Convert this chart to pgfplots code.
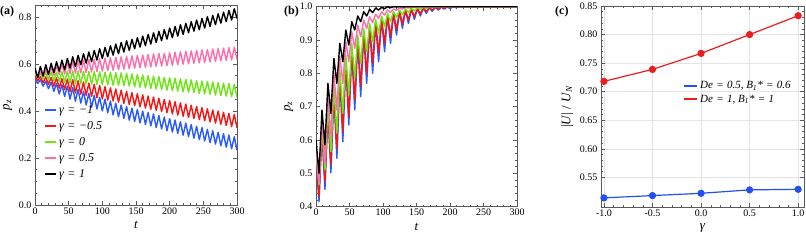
\documentclass[border=0pt]{standalone}
\usepackage{fontspec}
\setmainfont{Liberation Serif}
\usepackage{pgfplots}
\usepackage{pgfplotstable}
\pgfplotsset{compat=1.18}
\definecolor{cb}{RGB}{40,90,255}
\definecolor{cr}{RGB}{250,20,20}
\definecolor{cg}{RGB}{110,230,20}
\definecolor{cp}{RGB}{255,110,170}
\definecolor{frm}{RGB}{90,90,90}
\definecolor{cbc}{RGB}{35,80,240}
\definecolor{crc}{RGB}{235,30,30}

\pgfplotstableread{
t b r g p k
0 0.538 0.548 0.558 0.558 0.582
4 0.516 0.528 0.540 0.543 0.541
8 0.533 0.546 0.560 0.566 0.589
12 0.505 0.520 0.536 0.546 0.548
16 0.527 0.544 0.562 0.575 0.596
20 0.494 0.513 0.533 0.549 0.555
24 0.522 0.542 0.564 0.583 0.602
28 0.483 0.505 0.529 0.552 0.562
32 0.516 0.540 0.565 0.592 0.609
36 0.472 0.497 0.525 0.555 0.569
40 0.511 0.537 0.567 0.600 0.616
44 0.461 0.490 0.521 0.557 0.575
48 0.505 0.535 0.569 0.608 0.623
52 0.450 0.482 0.518 0.558 0.582
56 0.499 0.533 0.570 0.613 0.630
60 0.441 0.476 0.516 0.560 0.589
64 0.491 0.528 0.570 0.614 0.636
68 0.433 0.471 0.515 0.561 0.596
72 0.483 0.523 0.569 0.616 0.643
76 0.425 0.466 0.514 0.563 0.603
80 0.475 0.518 0.568 0.618 0.650
84 0.416 0.461 0.513 0.565 0.609
88 0.466 0.513 0.567 0.620 0.657
92 0.408 0.456 0.512 0.567 0.616
96 0.458 0.508 0.566 0.622 0.664
100 0.400 0.451 0.511 0.569 0.623
104 0.450 0.503 0.565 0.624 0.670
108 0.392 0.446 0.510 0.571 0.630
112 0.442 0.498 0.564 0.626 0.677
116 0.383 0.442 0.509 0.573 0.637
120 0.433 0.493 0.563 0.628 0.684
124 0.375 0.437 0.508 0.575 0.643
128 0.425 0.488 0.562 0.630 0.691
132 0.368 0.432 0.507 0.577 0.650
136 0.419 0.483 0.560 0.632 0.698
140 0.361 0.427 0.505 0.579 0.657
144 0.412 0.478 0.557 0.634 0.704
148 0.355 0.422 0.502 0.581 0.664
152 0.406 0.473 0.555 0.636 0.711
156 0.349 0.417 0.500 0.583 0.671
160 0.399 0.468 0.553 0.638 0.718
164 0.342 0.412 0.498 0.585 0.677
168 0.393 0.463 0.550 0.640 0.725
172 0.336 0.407 0.495 0.587 0.684
176 0.387 0.459 0.548 0.642 0.732
180 0.329 0.402 0.493 0.589 0.691
184 0.380 0.454 0.546 0.644 0.738
188 0.323 0.397 0.491 0.591 0.698
192 0.374 0.449 0.543 0.645 0.745
196 0.316 0.392 0.488 0.592 0.705
200 0.367 0.444 0.541 0.647 0.752
204 0.310 0.387 0.486 0.594 0.711
208 0.361 0.439 0.539 0.649 0.759
212 0.304 0.382 0.484 0.596 0.718
216 0.354 0.434 0.536 0.651 0.766
220 0.297 0.377 0.481 0.598 0.725
224 0.348 0.429 0.534 0.653 0.772
228 0.291 0.372 0.479 0.600 0.732
232 0.342 0.424 0.532 0.655 0.779
236 0.284 0.368 0.477 0.602 0.739
240 0.335 0.419 0.529 0.657 0.786
244 0.278 0.363 0.474 0.604 0.745
248 0.329 0.414 0.527 0.659 0.793
252 0.272 0.358 0.472 0.606 0.752
256 0.322 0.409 0.525 0.661 0.800
260 0.265 0.353 0.470 0.608 0.759
264 0.316 0.404 0.523 0.663 0.806
268 0.259 0.348 0.467 0.610 0.766
272 0.309 0.399 0.520 0.665 0.813
276 0.252 0.343 0.465 0.612 0.773
280 0.303 0.394 0.518 0.667 0.820
284 0.246 0.338 0.463 0.614 0.779
288 0.297 0.389 0.516 0.669 0.827
292 0.239 0.333 0.460 0.616 0.786
296 0.290 0.385 0.513 0.671 0.834
300 0.233 0.328 0.458 0.618 0.793
}\dataA

\pgfplotstableread{
t b r g p k
0 0.550 0.555 0.560 0.570 0.600
4.45 0.415 0.430 0.465 0.470 0.500
8.9 0.620 0.630 0.640 0.660 0.690
13.35 0.452 0.475 0.510 0.530 0.585
17.8 0.680 0.690 0.700 0.740 0.770
22.25 0.502 0.525 0.565 0.610 0.680
26.7 0.735 0.745 0.760 0.800 0.845
31.15 0.545 0.575 0.620 0.690 0.770
35.6 0.785 0.795 0.810 0.850 0.890
40.05 0.595 0.625 0.680 0.770 0.835
44.5 0.830 0.840 0.855 0.895 0.930
48.95 0.645 0.670 0.735 0.835 0.885
53.4 0.865 0.875 0.890 0.925 0.955
57.85 0.690 0.720 0.785 0.875 0.930
62.3 0.895 0.905 0.915 0.945 0.972
66.75 0.730 0.760 0.830 0.910 0.955
71.2 0.918 0.925 0.935 0.960 0.985
75.65 0.770 0.800 0.865 0.935 0.972
80.1 0.937 0.942 0.950 0.970 0.992
84.55 0.800 0.830 0.895 0.952 0.982
89 0.950 0.955 0.962 0.978 0.996
93.45 0.835 0.860 0.920 0.965 0.990
97.9 0.962 0.966 0.972 0.985 0.998
102.35 0.865 0.890 0.940 0.975 0.994
106.8 0.972 0.975 0.980 0.990 1.000
111.25 0.890 0.910 0.955 0.983 0.997
115.7 0.979 0.982 0.986 0.993 1.000
120.15 0.915 0.930 0.967 0.989 0.999
124.6 0.985 0.987 0.990 0.996 1.000
129.05 0.935 0.948 0.976 0.993 0.999
133.5 0.989 0.991 0.993 0.998 1.000
137.95 0.950 0.960 0.983 0.996 1.000
142.4 0.992 0.994 0.995 0.999 1.000
146.85 0.962 0.970 0.988 0.998 1.000
151.3 0.994 0.996 0.997 0.999 1.000
155.75 0.972 0.978 0.992 0.999 1.000
160.2 0.996 0.997 0.998 1.000 1.000
164.65 0.980 0.985 0.995 0.999 1.000
169.1 0.997 0.998 0.999 1.000 1.000
173.55 0.986 0.990 0.997 1.000 1.000
178 0.998 0.999 0.999 1.000 1.000
182.45 0.990 0.993 0.998 1.000 1.000
186.9 0.999 0.999 1.000 1.000 1.000
191.35 0.993 0.995 0.999 1.000 1.000
195.8 0.999 1.000 1.000 1.000 1.000
200.25 0.995 0.997 0.999 1.000 1.000
204.7 1.000 1.000 1.000 1.000 1.000
209.15 0.997 0.998 1.000 1.000 1.000
213.6 1.000 1.000 1.000 1.000 1.000
300 1.000 1.000 1.000 1.000 1.000
}\dataB

\pgfplotstableread{
x blue red
-1.0 0.514 0.718
-0.5 0.518 0.739
0.0 0.522 0.767
0.5 0.528 0.800
1.0 0.529 0.833
}\dataC

\pgfplotsset{
  mystyle/.style={
    scale only axis,
    axis line style={frm, line width=0.6pt},
    tick style={frm, line width=0.5pt},
    major tick length=4pt,
    minor tick length=2.2pt,
    tick label style={font=\fontsize{10}{10}\selectfont},
    label style={font=\fontsize{13}{13}\selectfont},
    /pgf/number format/assume math mode=true,
    xticklabel style={yshift=1pt},
  },
  ser/.style={line width=1.4pt, line join=round},
}
\newcommand{\eqs}{\hspace{0.3em}=\hspace{0.3em}}

\begin{document}
\begin{tikzpicture}
\useasboundingbox (0pt,0pt) rectangle (806pt,242pt);

% (a)
\begin{axis}[mystyle,
  at={(35pt,37pt)}, anchor=south west, width=202pt, height=200pt,
  xmin=0, xmax=300, ymin=0, ymax=0.85,
  xtick={0,50,100,150,200,250,300}, ytick={0,0.2,0.4,0.6,0.8},
  minor x tick num=4, minor y tick num=3,
  yticklabel style={/pgf/number format/.cd, fixed, fixed zerofill, precision=1},
  xlabel={\textit{t}}, ylabel={\textit{p}\textsubscript{\textit{z}}},
  legend style={at={(0.03,0.52)}, anchor=north west, draw=none, fill=none,
    font=\fontsize{12}{12}\selectfont, row sep=2.6pt, legend cell align=left},
  legend image code/.code={\draw[#1, line width=1.8pt] (0pt,0pt) -- (11pt,0pt);},
]
\addplot[ser, cb] table[x=t, y=b] {\dataA};
\addlegendentry{\textit{γ\eqs−1}}
\addplot[ser, cr] table[x=t, y=r] {\dataA};
\addlegendentry{\textit{γ\eqs−0.5}}
\addplot[ser, cg] table[x=t, y=g] {\dataA};
\addlegendentry{\textit{γ\eqs0}}
\addplot[ser, cp] table[x=t, y=p] {\dataA};
\addlegendentry{\textit{γ\eqs0.5}}
\addplot[ser, black] table[x=t, y=k] {\dataA};
\addlegendentry{\textit{γ\eqs1}}
\end{axis}

% (b)
\begin{axis}[mystyle,
  at={(316pt,35.3pt)}, anchor=south west, width=201pt, height=200pt,
  xmin=0, xmax=300, ymin=0.4, ymax=1.0,
  xtick={0,50,100,150,200,250,300}, ytick={0.4,0.5,0.6,0.7,0.8,0.9,1.0},
  minor x tick num=4, minor y tick num=4,
  yticklabel style={/pgf/number format/.cd, fixed, fixed zerofill, precision=1},
  xlabel={\textit{t}}, ylabel={\textit{p}\textsubscript{\textit{z}}},
]
\addplot[ser, cb] table[x=t, y=b] {\dataB};
\addplot[ser, cr] table[x=t, y=r] {\dataB};
\addplot[ser, cg] table[x=t, y=g] {\dataB};
\addplot[ser, cp] table[x=t, y=p] {\dataB};
\addplot[ser, black] table[x=t, y=k] {\dataB};
\end{axis}

% (c)
\begin{axis}[mystyle,
  at={(601pt,35pt)}, anchor=south west, width=203pt, height=201pt,
  xmin=-1.03, xmax=1.06, ymin=0.498, ymax=0.85,
  xtick={-1,-0.5,0,0.5,1}, ytick={0.55,0.6,0.65,0.7,0.75,0.8,0.85},
  minor x tick num=4, minor y tick num=4,
  xticklabel style={/pgf/number format/.cd, fixed, fixed zerofill, precision=1},
  yticklabel style={/pgf/number format/.cd, fixed, fixed zerofill, precision=2},
  grid=major, major grid style={gray!22, line width=0.5pt},
  xlabel={\textit{γ}}, ylabel={|\textit{U}| / \textit{U}\textsubscript{\textit{N}}},
  legend style={at={(0.39,0.645)}, anchor=north west, draw=none, fill=none,
    font=\fontsize{11}{11}\selectfont, row sep=0.5pt, legend cell align=left},
  legend image code/.code={\draw[#1, line width=1.8pt] (0pt,0pt) -- (13pt,0pt);},
]
\addplot[cbc, line width=1.2pt, mark=*, mark size=3pt] table[x=x, y=blue] {\dataC};
\addlegendentry{\textit{De\eqs0.5, B\textsubscript{1}*\eqs0.6}}
\addplot[crc, line width=1.2pt, mark=*, mark size=3pt] table[x=x, y=red] {\dataC};
\addlegendentry{\textit{De\eqs1, B\textsubscript{1}*\eqs1}}
\end{axis}

\node[anchor=north west, inner sep=0pt, font=\bfseries\fontsize{12}{12}\selectfont] at (0pt,236pt) {(a)};
\node[anchor=north west, inner sep=0pt, font=\bfseries\fontsize{12}{12}\selectfont] at (284pt,236pt) {(b)};
\node[anchor=north west, inner sep=0pt, font=\bfseries\fontsize{12}{12}\selectfont] at (555pt,236pt) {(c)};
\end{tikzpicture}
\end{document}
